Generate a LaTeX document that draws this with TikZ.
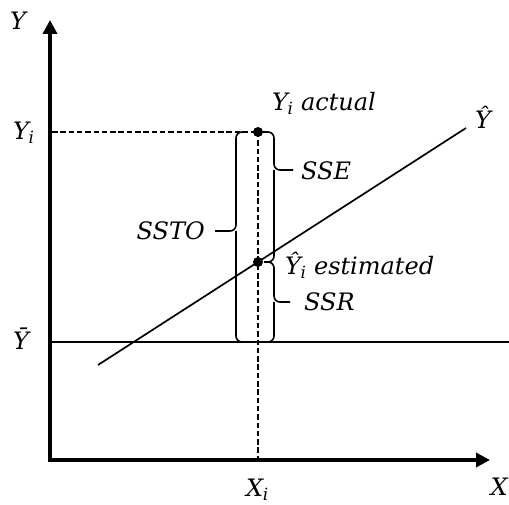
\documentclass[tikz,border=0pt]{standalone}
\usepackage{fontspec}
\setmainfont{DejaVu Serif}
\usetikzlibrary{arrows.meta}
\newcommand{\sbi}{\textsubscript{\kern-0.5pt i}}
\begin{document}
\begin{tikzpicture}[x=1pt,y=-1pt,
  axisline/.style={line width=3.8pt,line join=miter,{Triangle[length=14pt,width=14pt]}-{Triangle[length=14pt,width=14pt]}},
  guide/.style={line width=1.6pt,dash pattern=on 5.5pt off 2.8pt},
  plain/.style={line width=1.7pt},
  bracepath/.style={line width=1.6pt,rounded corners=6pt},
  dot/.style={circle,fill=black,inner sep=0pt,minimum size=10pt},
  lbl/.style={inner sep=0pt,font=\fontsize{24}{28}\selectfont\itshape}
]
\useasboundingbox (0,0) rectangle (509,505);
\clip (0,0) rectangle (509,505);
% coordinates
\coordinate (ytip) at (50,20);
\coordinate (O) at (50,460);
\coordinate (xtip) at (490,460);
\coordinate (yiL) at (52,132);
\coordinate (foot) at (258,458);
\coordinate (ybL) at (52,342);
\coordinate (ybR) at (509,342);
\coordinate (r1) at (98,365);
\coordinate (r2) at (466,128);
% axes
\draw[axisline] (ytip) -- (O) -- (xtip);
% guides
\node[dot] (act) at (258,132) {};
\node[dot] (est) at (258,262) {};
\draw[guide] (yiL) -- (act.center);
\draw[guide] (act.center) -- (foot);
% mean line and regression line
\draw[plain] (ybL) -- (ybR);
\draw[plain] (r1) -- (r2);
% braces
\draw[bracepath] (246,132) -| (236,231) -- (215,231);
\draw[bracepath] (246,342) -| (236,231);
\draw[bracepath] (263,132) -| (274,170) -- (293,170);
\draw[bracepath] (264,262) -| (274,170);
\draw[bracepath] (264,262) -| (274,302) -- (290,302);
\draw[bracepath] (263,342) -| (274,302);
% labels
\node[lbl] (lY) at (18,21) {Y};
\node[lbl,anchor=west] (lYi) at (13,133) {Y\sbi};
\node[lbl] (lYb) at (21,339) {Ȳ};
\node[lbl,anchor=east] (lX) at (508,487) {X};
\node[lbl,anchor=west] (lXi) at (246,490) {X\sbi};
\node[lbl,anchor=west] (lact) at (272,103) {Y\sbi{} actual};
\node[lbl] (lYh) at (483,117) {Ŷ};
\node[lbl,anchor=west] (lSSE) at (301,171) {SSE};
\node[lbl,anchor=east] (lSSTO) at (205,231) {SSTO};
\node[lbl,anchor=west] (lest) at (285,265) {Ŷ\sbi{} estimated};
\node[lbl,anchor=west] (lSSR) at (304,302) {SSR};
\end{tikzpicture}
\end{document}
